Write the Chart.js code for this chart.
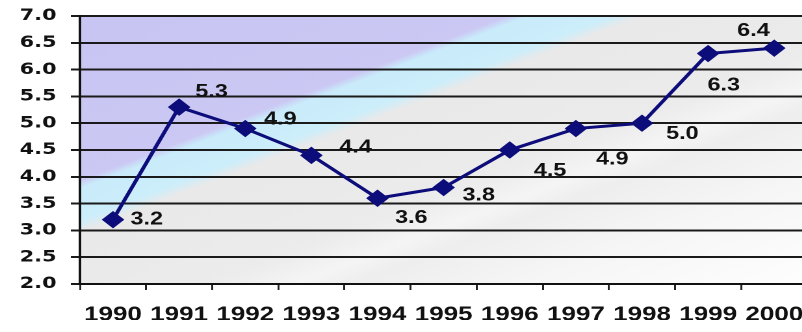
<!DOCTYPE html>
<html>
<head>
<meta charset="utf-8">
<script src="https://cdn.jsdelivr.net/npm/chart.js@4.4.1/dist/chart.umd.min.js"></script>
<style>
  html, body { margin: 0; padding: 0; background: #fff; overflow: hidden; width: 802px; height: 332px; }
  /* the original picture is stretched sideways, so is this one */
  #wrap { position: absolute; left: 0; top: 0; width: 640px; height: 332px; transform: scaleX(1.3); transform-origin: 0 0; }
</style>
</head>
<body>
<div id="wrap"><canvas id="chart"></canvas></div>
<script>
const years = ["1990", "1991", "1992", "1993", "1994", "1995", "1996", "1997", "1998", "1999", "2000"];
const rates = [3.2, 5.3, 4.9, 4.4, 3.6, 3.8, 4.5, 4.9, 5.0, 6.3, 6.4];
const yMin = 2.0;
const yMax = 7.0;
const yStep = 0.5;

// where each value label sits relative to its point (chart px)
const labelOffsets = [
  [26, 0], [25, -15], [27, -9], [34, -8], [26, 20], [27, 8],
  [31, 21], [28, 31], [31, 11], [12, 32], [-16, -17]
];

const lineColor = "#0c0c7a";

const plotBackground = {
  id: "plotBackground",
  beforeDraw(chart) {
    const { ctx, chartArea } = chart;
    const { left, top, right, bottom } = chartArea;
    const g = ctx.createLinearGradient(left, top, left + 219, top + 438);
    g.addColorStop(0, "#c9c5f3");
    g.addColorStop(0.30, "#ccc8f4");
    g.addColorStop(0.315, "#c9ebfa");
    g.addColorStop(0.375, "#cdeefa");
    g.addColorStop(0.395, "#e9e9ea");
    g.addColorStop(0.58, "#ececec");
    g.addColorStop(0.64, "#f5f5f5");
    g.addColorStop(0.68, "#eeeeee");
    g.addColorStop(0.8, "#f6f6f6");
    g.addColorStop(1, "#fefefe");
    ctx.save();
    ctx.fillStyle = g;
    ctx.fillRect(left, top, right - left, bottom - top);
    ctx.restore();
  }
};

const valueLabels = {
  id: "valueLabels",
  afterDatasetsDraw(chart) {
    const { ctx } = chart;
    const meta = chart.getDatasetMeta(0);
    ctx.save();
    ctx.font = "bold 18px 'Liberation Sans', Arial, sans-serif";
    ctx.fillStyle = "#111";
    ctx.textAlign = "center";
    ctx.textBaseline = "middle";
    meta.data.forEach((pt, i) => {
      const [dx, dy] = labelOffsets[i];
      ctx.fillText(rates[i].toFixed(1), pt.x + dx, pt.y + dy);
    });
    ctx.restore();
  }
};

new Chart(document.getElementById("chart"), {
  type: "line",
  data: {
    labels: years,
    datasets: [
      {
        data: rates,
        borderColor: lineColor,
        borderWidth: 3,
        tension: 0,
        pointStyle: "rectRot",
        pointRadius: 8,
        pointBackgroundColor: lineColor,
        pointBorderColor: lineColor,
        pointBorderWidth: 1,
        clip: false
      }
    ]
  },
  options: {
    responsive: true,
    maintainAspectRatio: false,
    devicePixelRatio: 2,
    animation: false,
    layout: { padding: { left: 14, right: 19, top: 16, bottom: 12 } },
    plugins: { legend: { display: false }, tooltip: { enabled: false } },
    scales: {
      x: {
        offset: true,
        afterFit: (scale) => { scale.height = 36; },
        grid: { drawOnChartArea: false, drawTicks: true, tickLength: 6, color: "#222", lineWidth: 1.5, offset: true },
        border: { color: "#111", width: 2 },
        ticks: {
          color: "#111",
          padding: 13,
          maxRotation: 0,
          autoSkip: false,
          font: { family: "'Liberation Sans', Arial, sans-serif", size: 20, weight: "bold" }
        }
      },
      y: {
        min: yMin,
        max: yMax,
        afterFit: (scale) => {
          scale.width = 47.5;
          scale.paddingTop = 0;
          scale.paddingBottom = 0;
        },
        grid: { color: "#1a1a1a", lineWidth: 2, tickLength: 7 },
        border: { color: "#111", width: 2 },
        ticks: {
          stepSize: yStep,
          color: "#111",
          padding: 11,
          callback: (v) => v.toFixed(1),
          font: { family: "'DejaVu Sans', Verdana, sans-serif", size: 16, weight: "bold" }
        }
      }
    }
  },
  plugins: [plotBackground, valueLabels]
});
</script>
</body>
</html>
